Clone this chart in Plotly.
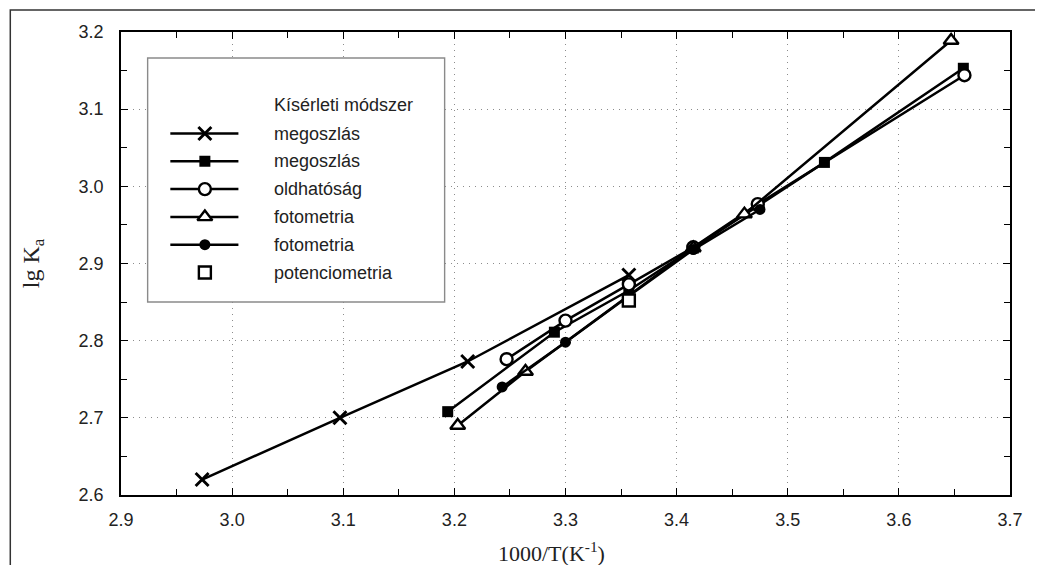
import plotly.graph_objects as go

# ---------------- data ----------------
x_cross = [2.973, 3.097, 3.212, 3.357]
y_cross = [2.620, 2.700, 2.773, 2.885]
x_sq = [3.194, 3.290, 3.357, 3.415, 3.474, 3.533, 3.658]
y_sq = [2.708, 2.811, 2.865, 2.920, 2.975, 3.031, 3.153]
x_circ = [3.247, 3.300, 3.357, 3.415, 3.473, 3.659]
y_circ = [2.776, 2.826, 2.873, 2.921, 2.977, 3.144]
x_tri = [3.203, 3.264, 3.415, 3.461, 3.647]
y_tri = [2.690, 2.760, 2.920, 2.964, 3.189]
x_dot = [3.243, 3.300, 3.357, 3.415, 3.475]
y_dot = [2.740, 2.798, 2.858, 2.918, 2.970]
x_pot = [3.357]
y_pot = [2.852]

names = ["megoszlás", "megoszlás", "oldhatóság", "fotometria", "fotometria", "potenciometria"]
legend_title = "Kísérleti módszer"
x_tickvals = [2.9, 3.0, 3.1, 3.2, 3.3, 3.4, 3.5, 3.6, 3.7]
x_ticktext = ["2.9", "3.0", "3.1", "3.2", "3.3", "3.4", "3.5", "3.6", "3.7"]
y_tickvals = [2.6, 2.7, 2.8, 2.9, 3.0, 3.1, 3.2]
y_ticktext = ["2.6", "2.7", "2.8", "2.9", "3.0", "3.1", "3.2"]
x_title = "1000/T(K<sup>-1</sup>)"
y_title = "lg K<sub>a</sub>"

# ---------------- styles ----------------
LW = 2.5
styles = [
    dict(mode="lines+markers", marker=dict(symbol="x-thin", size=13, line=dict(width=2.9, color="black"), color="black")),
    dict(mode="lines+markers", marker=dict(symbol="square", size=11, color="black", line=dict(width=0))),
    dict(mode="lines+markers", marker=dict(symbol="circle", size=12, color="white", line=dict(width=2.4, color="black"))),
    dict(mode="lines+markers", marker=dict(symbol="triangle-up", size=13, color="white", line=dict(width=2.4, color="black"))),
    dict(mode="lines+markers", marker=dict(symbol="circle", size=11, color="black", line=dict(width=0))),
    dict(mode="markers", marker=dict(symbol="square", size=12, color="white", line=dict(width=2.4, color="black"))),
]
series = [(x_cross, y_cross), (x_sq, y_sq), (x_circ, y_circ), (x_tri, y_tri), (x_dot, y_dot), (x_pot, y_pot)]

fig = go.Figure()
for (xs, ys), nm, st in zip(series, names, styles):
    fig.add_trace(go.Scatter(x=xs, y=ys, name=nm, showlegend=False, cliponaxis=False,
                             line=dict(color="black", width=LW), **st))

# The page is drawn with the browser's 8px body margin, so screen px -> figure px = screen - 8
OFF = 8
W, H = 1043 - 2 * OFF, 573 - 2 * OFF
L, T = 121 - OFF, 32 - OFF
R = W - (1022 - OFF)
B = H - (495 - OFF)
pw, ph = W - L - R, H - T - B


def px(xs):
    return (xs - OFF - L) / pw


def py(ys):
    return (H - B - (ys - OFF)) / ph


# ---------------- custom legend (overlay axis in screen-pixel units) ----------------
legfont = dict(family="Liberation Sans, Arial, sans-serif", size=18, color="#222")
row0, row_gap = 133.5, 27.8
for i, (nm, st) in enumerate(zip(names, styles)):
    yc = row0 + row_gap * i
    if st["mode"].startswith("lines"):
        fig.add_trace(go.Scatter(x=[171, 240], y=[yc, yc], mode="lines", xaxis="x2", yaxis="y2",
                                 line=dict(color="black", width=LW), showlegend=False, hoverinfo="skip"))
    fig.add_trace(go.Scatter(x=[206], y=[yc], mode="markers", xaxis="x2", yaxis="y2",
                             marker=st["marker"], showlegend=False, hoverinfo="skip"))
    fig.add_annotation(x=274, y=yc, xref="x2", yref="y2", text=nm, showarrow=False,
                       xanchor="left", yanchor="middle", font=legfont)
fig.add_annotation(x=274, y=105, xref="x2", yref="y2", text=legend_title, showarrow=False,
                   xanchor="left", yanchor="middle", font=legfont)

# x axis title (placed slightly left of centre like the reference)
fig.add_annotation(x=px(557), y=py(552), xref="paper", yref="paper", text=x_title, showarrow=False,
                   xanchor="center", yanchor="middle",
                   font=dict(family="Liberation Serif, Times New Roman, serif", size=22, color="#222"))

tickfont = dict(family="Liberation Sans, Arial, sans-serif", size=18, color="#222")
axis_common = dict(showline=True, linecolor="black", linewidth=1.6, mirror="ticks",
                   ticks="inside", ticklen=7, tickwidth=1, tickcolor="black",
                   showgrid=True, gridcolor="#8c8c8c", griddash="1px,5px", gridwidth=1.2,
                   zeroline=False, tickfont=tickfont,
                   minor=dict(dtick=0.05, ticks="inside", ticklen=6, tickcolor="black", showgrid=False))

fig.update_layout(
    width=W, height=H, autosize=False,
    margin=dict(l=L, r=R, t=T, b=B, pad=0),
    paper_bgcolor="white", plot_bgcolor="white",
    showlegend=False,
    xaxis=dict(range=[2.9, 3.7], tickvals=x_tickvals, ticktext=x_ticktext, ticklabelstandoff=8,
               **axis_common),
    yaxis=dict(range=[2.6, 3.2], tickvals=y_tickvals, ticktext=y_ticktext, ticklabelstandoff=12,
               title=dict(text=y_title, font=dict(family="Liberation Serif, Times New Roman, serif", size=24, color="#222"),
                          standoff=32),
               **axis_common),
    xaxis2=dict(domain=[px(148), px(449)], range=[148, 449], anchor="y2", visible=False, fixedrange=True),
    yaxis2=dict(domain=[py(302), py(58)], range=[302, 58], anchor="x2", visible=False, fixedrange=True),
    shapes=[
        # legend box
        dict(type="rect", xref="paper", yref="paper", x0=px(148), x1=px(449), y0=py(302), y1=py(58),
             line=dict(color="#8a8a8a", width=1.4), fillcolor="rgba(0,0,0,0)", layer="above"),
        # outer frame of the picture
        dict(type="rect", xref="paper", yref="paper", x0=px(8.8), x1=px(1100), y0=py(700), y1=py(10),
             line=dict(color="#333", width=1.5), fillcolor="rgba(0,0,0,0)"),
    ],
)

fig.write_html("out.html")
